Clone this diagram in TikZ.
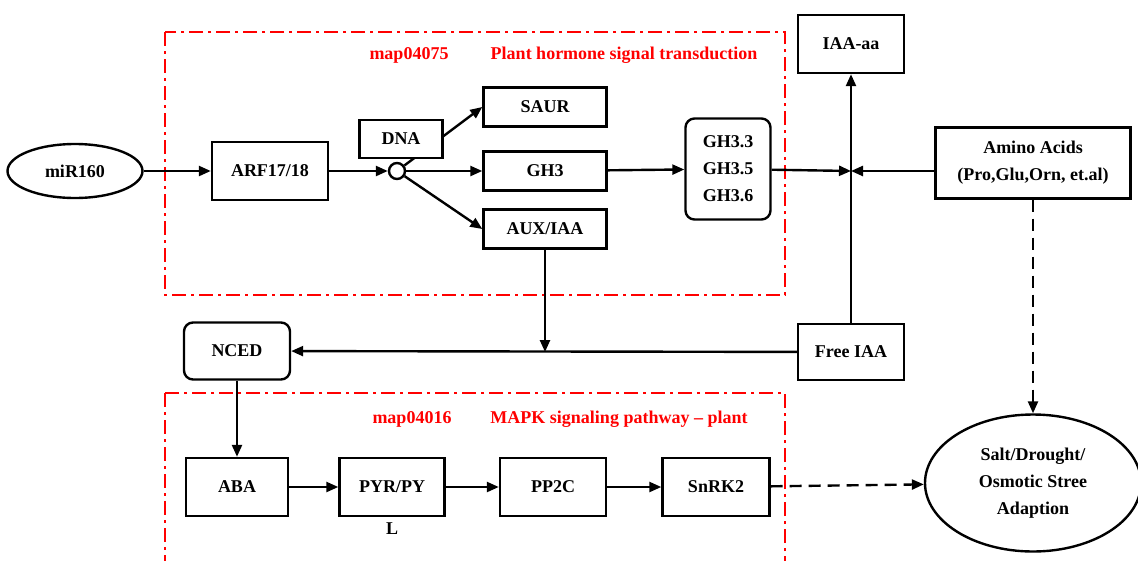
\documentclass[tikz,border=0pt]{standalone}
\usepackage{fontspec}
\setmainfont{Liberation Serif}
\usetikzlibrary{arrows.meta,positioning,shapes.geometric}

\begin{document}
\begin{tikzpicture}[x=1pt, y=-1pt, line width=2.4pt,
    font=\fontsize{18}{27}\selectfont\bfseries,
    >={Triangle[length=12pt,width=10pt]}]
    \tikzstyle{box}=[draw, rectangle, inner sep=0pt, minimum width=106pt, minimum height=58pt, align=center]
    \tikzstyle{gene}=[box, minimum width=123pt, minimum height=39pt]
    \tikzstyle{rbox}=[box, rounded corners=9pt]
    \tikzstyle{oval}=[draw, ellipse, inner sep=0pt, align=center]
    \tikzstyle{junction}=[draw, circle, inner sep=0pt, minimum size=16pt]
    \tikzstyle{frame}=[red, line width=2.6pt, dash pattern=on 14pt off 5pt on 3pt off 5pt]
    \tikzstyle{title}=[text=red, inner sep=0pt]

    \useasboundingbox (0,0) rectangle (1138,560);

    % Pathway frames
    \draw[frame] (165,32) rectangle (785,295);
    \draw[frame] (165,393) rectangle (785,590);
    \node[title] (hormoneid) at (409,55) {map04075};
    \node[title] (hormone) at (624,55) {Plant hormone signal transduction};
    \node[title] (mapkid) at (412,419) {map04016};
    \node[title] (mapk) at (619,419) {MAPK signaling pathway -- plant};

    % Auxin branch
    \node[oval, minimum width=135pt, minimum height=54pt] (mir) at (75,171) {miR160};
    \node[box, minimum width=116pt] (arf) at (270,171) {ARF17/18};
    \node[junction] (junc) at (397,171) {};
    \node[gene] (saur) at (545,107) {SAUR};
    \node[gene] (gh) at (545,171) {GH3};
    \node[gene] (aux) at (545,229) {AUX/IAA};
    \node[rbox, minimum width=85pt, minimum height=101pt] (ghset) at (728,169) {GH3.3\\GH3.5\\GH3.6};
    \coordinate (join) at (851,171);

    % IAA pool
    \node[box] (iaaaa) at (851,44) {IAA-aa};
    \node[box, minimum width=195pt, minimum height=71pt] (amino) at (1033,163) {Amino Acids\\(Pro,Glu,Orn, et.al)};
    \node[box, minimum height=56pt] (freeiaa) at (851,352) {Free IAA};

    % ABA branch
    \node[rbox, minimum height=57pt] (nced) at (237,351) {NCED};
    \node[box, minimum width=102pt] (aba) at (237,487) {ABA};
    \node[box, minimum width=105pt] (pyr) at (392,487) {PYR/PY};
    \node (pyrtail) at (392,529) {L};
    \node[box] (pp2c) at (553,487) {PP2C};
    \node[box, minimum width=107pt] (snrk) at (716,487) {SnRK2};
    \node[oval, minimum width=216pt, minimum height=137pt] (stress) at (1033,483) {Salt/Drought/\\Osmotic Stree\\Adaption};

    % Connectors
    \draw[->] (mir) -- (arf);
    \draw[->] (arf) -- (junc);
    \draw[->] (junc) -- (gh);
    \draw[->] (junc) -- (saur.west);
    \draw[->] (junc) -- (aux.west);
    \node[box, fill=white, minimum width=83pt, minimum height=38pt] (dna) at (401,139) {DNA};
    \draw[->] (gh) -- (ghset);
    \draw[->] (ghset) -- (join);
    \draw[->] (join -| amino.west) -- (join);
    \draw[->] (freeiaa) -- (iaaaa);
    \draw[->] (freeiaa) -- (nced);
    \draw[->] (aux) -- (aux |- freeiaa);
    \draw[->] (nced) -- (aba);
    \draw[->] (aba) -- (pyr);
    \draw[->] (pyr) -- (pp2c);
    \draw[->] (pp2c) -- (snrk);
    \draw[->, dash pattern=on 12pt off 7pt] (snrk) -- (stress);
    \draw[->, dash pattern=on 12pt off 7pt] (amino) -- (stress);
\end{tikzpicture}
\end{document}
